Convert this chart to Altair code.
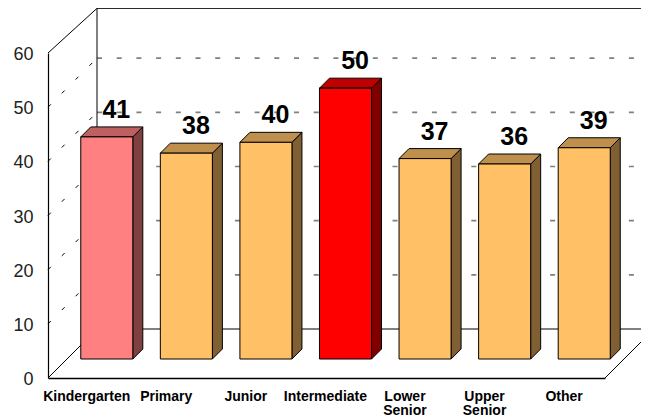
import json
import altair as alt
import pandas as pd

categories = ["Kindergarten", "Primary", "Junior", "Intermediate", "Lower Senior", "Upper Senior", "Other"]
axis_lines = [["Kindergarten"], ["Primary"], ["Junior"], ["Intermediate"], ["Lower", "Senior"], ["Upper", "Senior"], ["Other"]]
values = [41, 38, 40, 50, 37, 36, 39]
front_colors = ["#FF8080", "#FFC066", "#FFC066", "#FF0000", "#FFC066", "#FFC066", "#FFC066"]
top_colors = ["#BF6060", "#BF8F4D", "#BF8F4D", "#BF0000", "#BF8F4D", "#BF8F4D", "#BF8F4D"]
side_colors = ["#804040", "#806033", "#806033", "#800000", "#806033", "#806033", "#806033"]
y_ticks = [0, 10, 20, 30, 40, 50, 60]

# Oblique projection: how far one full unit of depth moves a point, in axis units
DX = 49 / 79.57
DY = 49 / 5.417
BAR_D0, BAR_D1 = 19 / 49, 29 / 49
BAR_L, BAR_R = 0.173, 0.827
LABEL_LIFT = 5.0
RIM = 59.2  # back rim kept just inside the drawing's top edge

xs = alt.Scale(domain=[0, 7], nice=False, zero=False)
ys = alt.Scale(domain=[0, 60], nice=False, zero=False)
expr = "%s[floor(datum.value)]" % json.dumps(axis_lines)
x_axis = alt.Axis(values=[i + 0.48 for i in range(7)], labelExpr=expr, title=None, ticks=False, grid=False,
                  labelFont="Liberation Sans", labelFontWeight="bold", labelFontSize=14, labelColor="#000000",
                  labelPadding=11, labelLineHeight=14, labelOverlap=False, labelFlush=False, labelBound=False,
                  labelAngle=0, domainColor="#000000", domainWidth=1.5)
y_axis = alt.Axis(values=y_ticks, title=None, ticks=False, grid=False, labelFont="Liberation Sans",
                  labelFontSize=18, labelColor="#222222", labelPadding=15, labelOffset=1.5, domainColor="#000000",
                  domainWidth=1.2, labelOverlap=False, labelFlush=False, labelBound=False)


def X(f):
    return alt.X(f, type="quantitative", scale=xs, axis=x_axis)


def Y(f):
    return alt.Y(f, type="quantitative", scale=ys, axis=y_axis)


def project(x, v, d):
    return x + d * DX, v + d * DY


# Wall and floor outlines
solid_rows = []
def seg(name, p, q):
    solid_rows.append({"s": name, "o": 0, "x": p[0], "y": p[1]})
    solid_rows.append({"s": name, "o": 1, "x": q[0], "y": q[1]})

seg("left_floor", project(0, 0, 0), project(0, 0, 1))
seg("right_floor", project(7, 0, 0), project(7, 0, 1))
seg("left_top", project(0, 60, 0), project(0, RIM, 1))
seg("back_left", project(0, 0, 1), project(0, RIM, 1))
seg("back_top", project(0, RIM, 1), project(7, RIM, 1))
seg("back_floor", project(0, 0, 1), project(7, 0, 1))

grid_rows = []
for t in y_ticks[1:-1]:
    a, b = project(0, t, 1), project(7, t, 1)
    grid_rows += [{"s": t, "o": 0, "x": a[0], "y": a[1]}, {"s": t, "o": 1, "x": b[0], "y": b[1]}]

wall_rows = []
for t in y_ticks[1:-1]:
    a, b = project(0, t, 0), project(0, t, 1)
    wall_rows += [{"s": t, "o": 0, "x": a[0], "y": a[1]}, {"s": t, "o": 1, "x": b[0], "y": b[1]}]

front, side, top, labels = [], [], [], []
for i, (c, v) in enumerate(zip(categories, values)):
    x0, y0 = project(i + BAR_L, 0, BAR_D0)
    x1, y1 = project(i + BAR_R, v, BAR_D0)
    bx1, by0 = project(i + BAR_R, 0, BAR_D1)
    bx0, by1 = project(i + BAR_L, v, BAR_D1)
    front.append({"c": c, "x": x0, "x2": x1, "y": y0, "y2": y1, "fill": front_colors[i]})
    side.append({"c": c, "x": x1, "y": y0, "y2": y1, "fill": side_colors[i]})
    side.append({"c": c, "x": bx1, "y": by0, "y2": by1, "fill": side_colors[i]})
    top.append({"c": c, "y": y1, "x": x0, "x2": x1, "fill": top_colors[i]})
    top.append({"c": c, "y": by1, "x": bx0, "x2": bx1, "fill": top_colors[i]})
    labels.append({"c": c, "x": (x0 + x1) / 2 + 0.12, "y": y1 + LABEL_LIFT, "t": str(v)})

grid = alt.Chart(pd.DataFrame(grid_rows)).mark_line(color="#808080", strokeWidth=1.6, strokeDash=[5, 14.7]).encode(
    x=X("x"), y=Y("y"), detail="s:N", order="o:Q")
wall = alt.Chart(pd.DataFrame(wall_rows)).mark_line(color="#000000", strokeWidth=1, strokeDash=[4, 15.5]).encode(
    x=X("x"), y=Y("y"), detail="s:N", order="o:Q")
solid = alt.Chart(pd.DataFrame(solid_rows)).mark_line(color="#000000", strokeWidth=1).encode(
    x=X("x"), y=Y("y"), detail="s:N", order="o:Q")
side_layer = alt.Chart(pd.DataFrame(side)).mark_area(stroke="#000000", strokeWidth=1, interpolate="linear").encode(
    x=X("x"), y=Y("y"), y2="y2:Q", detail="c:N", fill=alt.Fill("fill:N", scale=None))
top_layer = alt.Chart(pd.DataFrame(top)).mark_area(stroke="#000000", strokeWidth=1, orient="horizontal", interpolate="linear").encode(
    y=Y("y"), x=X("x"), x2="x2:Q", detail="c:N", fill=alt.Fill("fill:N", scale=None))
front_layer = alt.Chart(pd.DataFrame(front)).mark_rect(stroke="#000000", strokeWidth=1).encode(
    x=X("x"), x2="x2:Q", y=Y("y"), y2="y2:Q", fill=alt.Fill("fill:N", scale=None))
label_layer = alt.Chart(pd.DataFrame(labels)).mark_text(font="Liberation Sans", fontWeight="bold", fontSize=25, color="#000000", baseline="middle").encode(
    x=X("x"), y=Y("y"), text="t:N")

chart = alt.layer(grid, wall, solid, side_layer, top_layer, front_layer, label_layer).properties(
    width=557, height=325,
    padding={"left": 40, "top": 45, "right": 36, "bottom": 38},
    autosize=alt.AutoSizeParams(type="none"),
).configure_view(stroke=None)

chart.save("out.html", embed_options={"renderer": "svg", "actions": False})
